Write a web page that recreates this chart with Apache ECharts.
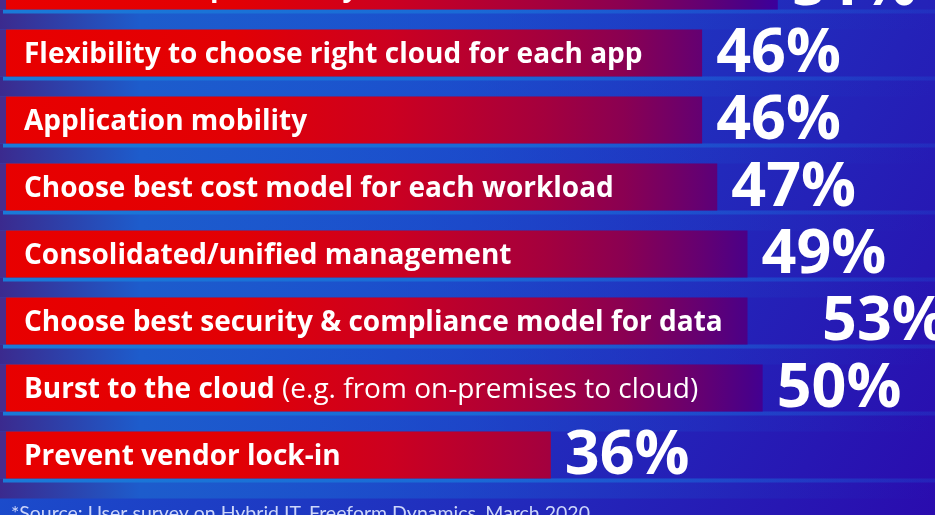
<!DOCTYPE html>
<html>
<head lang="en">
	<meta charset="UTF-8">
	<title></title>
	<script type="text/javascript" src="https://cdn.jsdelivr.net/npm/echarts@6/dist/echarts.min.js"></script>
	<style>
		html, body {margin: 0; padding: 0; overflow: hidden; width: 935px; height: 515px;}
		/* 第一条被截掉一半, 所以图往上挪 */
		#chart {width: 935px; height: 563px; margin-top: -48px;}
	</style>
</head>
<body>
<div id="chart"></div>
<script>
//数据
var categories = [
	'Greater data portability',
	'Flexibility to choose right cloud for each app',
	'Application mobility',
	'Choose best cost model for each workload',
	'Consolidated/unified management',
	'Choose best security & compliance model for data',
	'Burst to the cloud|(e.g. from on-premises to cloud)',
	'Prevent vendor lock-in'
];
var values = [51, 46, 46, 47, 49, 53, 50, 36];
//画出来的条长度 (53% 那条被截短了)
var barValues = [51, 46, 46, 47, 49, 49, 50, 36];
var source = '*Source: User survey on Hybrid IT, Freeform Dynamics, March 2020';

var myChart = echarts.init(document.getElementById('chart'));

var barColor = new echarts.graphic.LinearGradient(0, 0, 780, 0, [
	{offset: 0, color: '#e80000'},
	{offset: 0.3, color: '#e20004'},
	{offset: 0.5, color: '#cc0020'},
	{offset: 0.7, color: '#a4003e'},
	{offset: 0.8, color: '#8a0052'},
	{offset: 0.9, color: '#640072'},
	{offset: 0.96, color: '#4a0088'},
	{offset: 1, color: '#3a009e'}
], true);

var option = {
	backgroundColor: new echarts.graphic.LinearGradient(0, 0, 1, 1, [
		{offset: 0, color: '#1860d4'},
		{offset: 0.5, color: '#1e38c2'},
		{offset: 1, color: '#2a0cae'}
	]),
	title: {
		text: source,
		left: 6,
		top: 547,
		textStyle: {
			color: '#cdd6fa',
			fontFamily: 'Lato',
			fontWeight: 'normal',
			fontSize: 19.5
		}
	},
	grid: {
		left: 6,
		right: 21,
		top: 0.5,
		bottom: 26.5
	},
	xAxis: {
		type: 'value',
		min: 0,
		max: 60,
		show: false
	},
	yAxis: {
		type: 'category',
		inverse: true,
		data: categories,
		show: false
	},
	series: [
		{
			name: 'bar',
			type: 'bar',
			barWidth: 47,
			data: barValues,
			z: 3,
			itemStyle: {color: barColor},
			label: {
				show: true,
				position: 'insideLeft',
				distance: 18,
				offset: [0, 2],
				color: '#fff',
				formatter: function (p) {
					var t = categories[p.dataIndex].split('|');
					if (t.length > 1) {
						return '{b|' + t[0] + '}{n|\u00a0' + t[1] + '}';
					}
					return '{b|' + t[0] + '}';
				},
				rich: {
					b: {color: '#fff', fontFamily: 'Open Sans', fontWeight: 'bold', fontSize: 28},
					n: {color: '#fff', fontFamily: 'Open Sans', fontWeight: 'normal', fontSize: 28}
				}
			}
		},
		{
			name: 'value',
			type: 'bar',
			barWidth: 47,
			barGap: '-100%',
			data: values,
			z: 1,
			itemStyle: {color: 'rgba(0,0,0,0)'},
			label: {
				show: true,
				position: 'right',
				distance: 14,
				offset: [0, 2],
				color: '#fff',
				fontFamily: 'Open Sans',
				fontWeight: 'bold',
				fontSize: 61,
				formatter: '{c}%'
			}
		}
	]
};
myChart.setOption(option);

//条下面的蓝色台阶
var gapColor = new echarts.graphic.LinearGradient(0, 0, 935, 0, [
	{offset: 0, color: '#3b2a8e'},
	{offset: 0.15, color: '#1d5ccc'},
	{offset: 0.5, color: 'rgba(26,90,210,0.5)'},
	{offset: 1, color: 'rgba(30,60,200,0)'}
], true);
var bandColor = new echarts.graphic.LinearGradient(0, 0, 935, 0, [
	{offset: 0, color: '#1a7ad8'},
	{offset: 0.5, color: '#1a6ad6'},
	{offset: 1, color: 'rgba(30,80,210,0.3)'}
], true);
var shelves = [];
for (var i = 0; i < categories.length; i++) {
	var cy = myChart.convertToPixel({yAxisIndex: 0}, i);
	shelves.push({type: 'rect', z: 0, shape: {x: 0, y: cy + 23.5, width: 935, height: 20}, style: {fill: gapColor}});
	shelves.push({type: 'rect', z: 0, shape: {x: 3, y: cy + 23.5, width: 932, height: 4}, style: {fill: bandColor}});
	shelves.push({type: 'rect', z: 0, shape: {x: 0, y: cy - 23.5, width: 6, height: 47}, style: {fill: '#4a2c8c'}});
}
myChart.setOption({graphic: shelves});
</script>
</body>
</html>
